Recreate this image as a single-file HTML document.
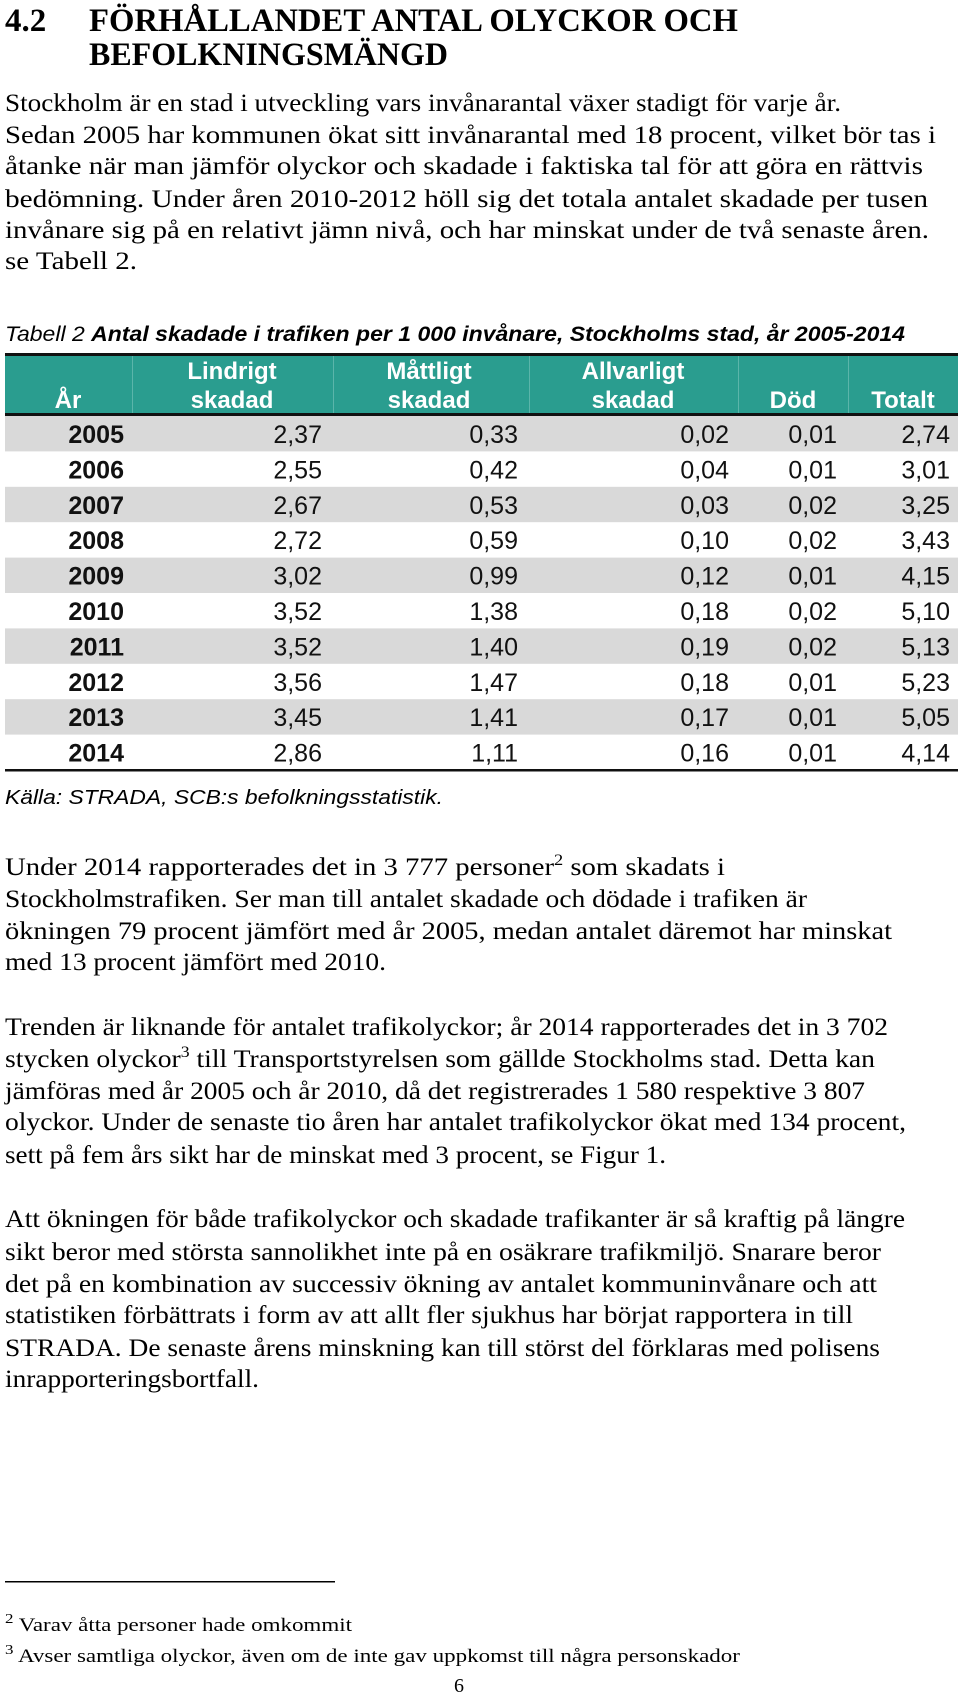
<!DOCTYPE html>
<html><head><meta charset="utf-8"><style>
html,body{margin:0;padding:0;background:#fff;}
svg{display:block;}
.s{font-family:"Liberation Serif",serif;font-size:25px;fill:#000;}
.h{font-family:"Liberation Serif",serif;font-size:33px;font-weight:bold;fill:#000;}
.a{font-family:"Liberation Sans",sans-serif;}
</style></head><body>
<svg id="page" width="960" height="1693" viewBox="0 0 960 1693" xmlns="http://www.w3.org/2000/svg">
<g>
<text class="h" x="5" y="31">4.2</text>
<text class="h" x="89" y="31" textLength="649" lengthAdjust="spacingAndGlyphs">FÖRHÅLLANDET ANTAL OLYCKOR OCH</text>
<text class="h" x="89" y="65" textLength="359" lengthAdjust="spacingAndGlyphs">BEFOLKNINGSMÄNGD</text>
</g>
<g>
<text class="s" x="5" y="111" textLength="836" lengthAdjust="spacingAndGlyphs">Stockholm är en stad i utveckling vars invånarantal växer stadigt för varje år.</text>
<text class="s" x="5" y="143" textLength="931" lengthAdjust="spacingAndGlyphs">Sedan 2005 har kommunen ökat sitt invånarantal med 18 procent, vilket bör tas i</text>
<text class="s" x="5" y="174" textLength="918" lengthAdjust="spacingAndGlyphs">åtanke när man jämför olyckor och skadade i faktiska tal för att göra en rättvis</text>
<text class="s" x="5" y="207" textLength="923" lengthAdjust="spacingAndGlyphs">bedömning. Under åren 2010-2012 höll sig det totala antalet skadade per tusen</text>
<text class="s" x="5" y="238" textLength="924" lengthAdjust="spacingAndGlyphs">invånare sig på en relativt jämn nivå, och har minskat under de två senaste åren.</text>
<text class="s" x="5" y="269" textLength="132" lengthAdjust="spacingAndGlyphs">se Tabell 2.</text>
</g>
<text class="a" x="5" y="341" font-size="21" textLength="900" lengthAdjust="spacingAndGlyphs"><tspan font-style="italic">Tabell 2 </tspan><tspan font-style="italic" font-weight="bold">Antal skadade i trafiken per 1 000 invånare, Stockholms stad, år 2005-2014</tspan></text>
<g id="table">
<rect x="5" y="354" width="953" height="61" fill="#2a9d8f"/>
<rect x="5" y="353" width="953" height="3" fill="#111"/>
<rect x="5" y="413" width="953" height="3" fill="#111"/>
</g>
<text class="a" x="5" y="804" font-size="20" font-style="italic" textLength="438" lengthAdjust="spacingAndGlyphs">Källa: STRADA, SCB:s befolkningsstatistik.</text>
<g>
<text class="s" x="5" y="875" textLength="720" lengthAdjust="spacingAndGlyphs">Under 2014 rapporterades det in 3 777 personer<tspan style="font-size:16px" dy="-10">2</tspan><tspan dy="10"> som skadats i</tspan></text>
<text class="s" x="5" y="907" textLength="802" lengthAdjust="spacingAndGlyphs">Stockholmstrafiken. Ser man till antalet skadade och dödade i trafiken är</text>
<text class="s" x="5" y="939" textLength="887" lengthAdjust="spacingAndGlyphs">ökningen 79 procent jämfört med år 2005, medan antalet däremot har minskat</text>
<text class="s" x="5" y="970" textLength="381" lengthAdjust="spacingAndGlyphs">med 13 procent jämfört med 2010.</text>
</g>
<g>
<text class="s" x="5" y="1035" textLength="883" lengthAdjust="spacingAndGlyphs">Trenden är liknande för antalet trafikolyckor; år 2014 rapporterades det in 3 702</text>
<text class="s" x="5" y="1067" textLength="870" lengthAdjust="spacingAndGlyphs">stycken olyckor<tspan style="font-size:16px" dy="-10">3</tspan><tspan dy="10"> till Transportstyrelsen som gällde Stockholms stad. Detta kan</tspan></text>
<text class="s" x="5" y="1099" textLength="860" lengthAdjust="spacingAndGlyphs">jämföras med år 2005 och år 2010, då det registrerades 1 580 respektive 3 807</text>
<text class="s" x="5" y="1130" textLength="901" lengthAdjust="spacingAndGlyphs">olyckor. Under de senaste tio åren har antalet trafikolyckor ökat med 134 procent,</text>
<text class="s" x="5" y="1163" textLength="661" lengthAdjust="spacingAndGlyphs">sett på fem års sikt har de minskat med 3 procent, se Figur 1.</text>
</g>
<g>
<text class="s" x="5" y="1227" textLength="900" lengthAdjust="spacingAndGlyphs">Att ökningen för både trafikolyckor och skadade trafikanter är så kraftig på längre</text>
<text class="s" x="5" y="1260" textLength="876" lengthAdjust="spacingAndGlyphs">sikt beror med största sannolikhet inte på en osäkrare trafikmiljö. Snarare beror</text>
<text class="s" x="5" y="1292" textLength="872" lengthAdjust="spacingAndGlyphs">det på en kombination av successiv ökning av antalet kommuninvånare och att</text>
<text class="s" x="5" y="1323" textLength="848" lengthAdjust="spacingAndGlyphs">statistiken förbättrats i form av att allt fler sjukhus har börjat rapportera in till</text>
<text class="s" x="5" y="1356" textLength="875" lengthAdjust="spacingAndGlyphs">STRADA. De senaste årens minskning kan till störst del förklaras med polisens</text>
<text class="s" x="5" y="1387" textLength="254" lengthAdjust="spacingAndGlyphs">inrapporteringsbortfall.</text>
</g>
<rect x="5" y="1581" width="330" height="1.5" fill="#000"/>
<g>
<text class="s" style="font-size:19px" x="5" y="1631" textLength="347" lengthAdjust="spacingAndGlyphs"><tspan style="font-size:14px" dy="-8">2</tspan><tspan dy="8"> Varav åtta personer hade omkommit</tspan></text>
<text class="s" style="font-size:19px" x="5" y="1662" textLength="735" lengthAdjust="spacingAndGlyphs"><tspan style="font-size:14px" dy="-8">3</tspan><tspan dy="8"> Avser samtliga olyckor, även om de inte gav uppkomst till några personskador</tspan></text>
</g>
<text class="s" style="font-size:20px" x="459" y="1692" text-anchor="middle">6</text>
</svg>
<script>
const years = ["2005","2006","2007","2008","2009","2010","2011","2012","2013","2014"];
const lindrigt = ["2,37","2,55","2,67","2,72","3,02","3,52","3,52","3,56","3,45","2,86"];
const mattligt = ["0,33","0,42","0,53","0,59","0,99","1,38","1,40","1,47","1,41","1,11"];
const allvarligt = ["0,02","0,04","0,03","0,10","0,12","0,18","0,19","0,18","0,17","0,16"];
const dod = ["0,01","0,01","0,02","0,02","0,01","0,02","0,02","0,01","0,01","0,01"];
const totalt = ["2,74","3,01","3,25","3,43","4,15","5,10","5,13","5,23","5,05","4,14"];
const headers = [["År"],["Lindrigt","skadad"],["Måttligt","skadad"],["Allvarligt","skadad"],["Död"],["Totalt"]];

const NS = "http://www.w3.org/2000/svg";
const table = document.getElementById('table');
const colRight = [124, 322, 518, 729, 837, 950];
const colCenter = [68, 232, 429, 633, 793, 903];
const dividers = [132, 333, 529, 738, 848];
const rowTop = 416, rowH = 35.4;
function mk(tag, attrs){const e=document.createElementNS(NS,tag);for(const k in attrs)e.setAttribute(k,attrs[k]);return e;}
years.forEach((y,i)=>{
  if(i%2===0){
    const r = mk('rect',{x:5,y:rowTop+i*rowH,width:953,height:rowH,fill:'#d9d9d9'});
    
    
    table.insertBefore(r, table.firstChild);
  }
});
dividers.forEach(x=>{
  const l = mk('rect',{x:x,y:356,width:1,height:57,fill:'#5bb5aa'});
  
  
  table.appendChild(l);
});
headers.forEach((lines,c)=>{
  lines.forEach((t,j)=>{
    const yy = lines.length===2 ? (j===0?379:408) : 408;
    const tx = mk('text',{x:colCenter[c],y:yy,'text-anchor':'middle','font-family':'"Liberation Sans",sans-serif','font-size':24,'font-weight':'bold',fill:'#fff'});
    tx.textContent = t;
    
    
    table.appendChild(tx);
  });
});
const cols = [years, lindrigt, mattligt, allvarligt, dod, totalt];
years.forEach((y,i)=>{
  cols.forEach((arr,c)=>{
    const tx = mk('text',{x:colRight[c],y:rowTop+i*rowH+27,'text-anchor':'end','font-family':'"Liberation Sans",sans-serif','font-size':25,fill:'#111'});
    if(c===0) tx.setAttribute('font-weight','bold');
    tx.textContent = arr[i];
    
    
    table.appendChild(tx);
  });
});
const bottom = mk('rect',{x:5,y:rowTop+years.length*rowH-1,width:953,height:2.5,fill:'#111'});


table.appendChild(bottom);
</script>
</body></html>
